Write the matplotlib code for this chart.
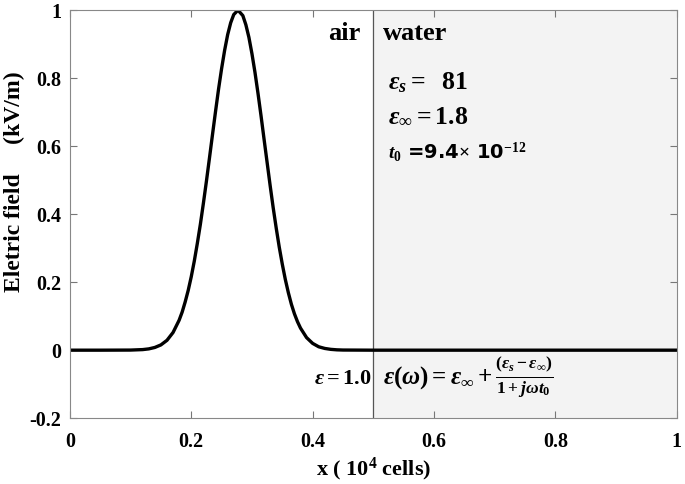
import matplotlib
matplotlib.use("Agg")
import matplotlib.pyplot as plt

# pulse (x in 10^4 cells, field in kV/m)
x_pts = [0.0, 0.05, 0.10, 0.12, 0.13, 0.14, 0.15, 0.16, 0.17, 0.18, 0.185,
         0.19, 0.195, 0.20, 0.205, 0.21, 0.215, 0.22, 0.225, 0.23, 0.235,
         0.24, 0.245, 0.25, 0.255, 0.26, 0.265, 0.27, 0.277, 0.285, 0.29,
         0.295, 0.30, 0.305, 0.31, 0.315, 0.32, 0.325, 0.33, 0.335, 0.34,
         0.345, 0.35, 0.355, 0.36, 0.365, 0.37, 0.375, 0.38, 0.39, 0.40,
         0.41, 0.42, 0.43, 0.44, 0.45, 0.50, 1.0]
e_pts = [0.0, 0.0, 0.0003, 0.0017, 0.0038, 0.008, 0.0155, 0.029, 0.052, 0.088,
         0.112, 0.142, 0.176, 0.216, 0.262, 0.314, 0.370, 0.432, 0.497, 0.565,
         0.634, 0.702, 0.768, 0.828, 0.882, 0.928, 0.963, 0.987, 1.0, 0.984,
         0.957, 0.920, 0.872, 0.817, 0.755, 0.689, 0.620, 0.552, 0.484, 0.419,
         0.359, 0.303, 0.253, 0.208, 0.169, 0.135, 0.107, 0.084, 0.065, 0.037,
         0.020, 0.010, 0.0051, 0.0024, 0.0010, 0.0004, 0.0, 0.0]

x_ticks = [0, 0.2, 0.4, 0.6, 0.8, 1]
x_tick_labels = ["0", "0.2", "0.4", "0.6", "0.8", "1"]
y_ticks = [-0.2, 0, 0.2, 0.4, 0.6, 0.8, 1]
y_tick_labels = ["-0.2", "0", "0.2", "0.4", "0.6", "0.8", "1"]
interface = 0.5

plt.rcParams["font.family"] = "Liberation Serif"
plt.rcParams["font.weight"] = "bold"
plt.rcParams["mathtext.fontset"] = "custom"
plt.rcParams["mathtext.rm"] = "Liberation Serif:bold"
plt.rcParams["mathtext.it"] = "Liberation Serif:italic:bold"
plt.rcParams["mathtext.bf"] = "Liberation Serif:bold"
plt.rcParams["mathtext.bfit"] = "Liberation Serif:italic:bold"

fig = plt.figure(figsize=(6.85, 4.84), dpi=100)
ax = fig.add_axes([0.102, 0.136, 0.886, 0.843])

ax.axvspan(interface, 1, color="#f3f3f3", zorder=0)
ax.axvline(interface, color="#555555", lw=0.9)
ax.plot(x_pts, e_pts, color="black", lw=2.4, solid_joinstyle="round")

ax.set_xlim(0, 1)
ax.set_ylim(-0.2, 1)
ax.set_xticks(x_ticks)
ax.set_xticklabels(x_tick_labels)
ax.set_yticks(y_ticks)
ax.set_yticklabels(y_tick_labels)
ax.tick_params(direction="in", top=True, right=True, labelsize=14.5,
               color="#777777", length=5)
ax.tick_params(axis="x", pad=10)
ax.tick_params(axis="y", pad=6)
for s in ax.spines.values():
    s.set_color("#888888")

ax.set_xlabel(r"x ( 10$^4$ cells)", fontsize=16, fontweight="bold", labelpad=3)
fig.text(14 / 685, 1 - 182 / 484, "Eletric field     (kV/m)", rotation=90,
         ha="center", va="center", fontsize=17, fontweight="bold")

ax.text(0.425, 0.932, "air", fontsize=19, fontweight="bold", va="center")
ax.text(0.516, 0.932, "water", fontsize=19, fontweight="bold", va="center")
ax.text(0.524, 0.788, r"$\varepsilon_s =$  81", fontsize=18.5, fontweight="bold", va="center")
ax.text(0.524, 0.69, r"$\varepsilon_\infty = 1.8$", fontsize=18.5, fontweight="bold", va="center")
ax.text(0.524, 0.582, r"$t_0$ =9.4$\times$ 10$^{-12}$", fontsize=14, fontweight="bold",
        va="center", family="DejaVu Sans")
ax.text(0.497, -0.085, r"$\varepsilon = 1.0$", fontsize=16, fontweight="bold",
        va="center", ha="right")
ax.text(0.516, -0.080,
        r"$\varepsilon(\omega) = \varepsilon_\infty + \frac{(\varepsilon_s - \varepsilon_\infty)}{1 + j\omega t_0}$",
        fontsize=18, fontweight="bold", va="center")

fig.savefig("out.png", dpi=100)
